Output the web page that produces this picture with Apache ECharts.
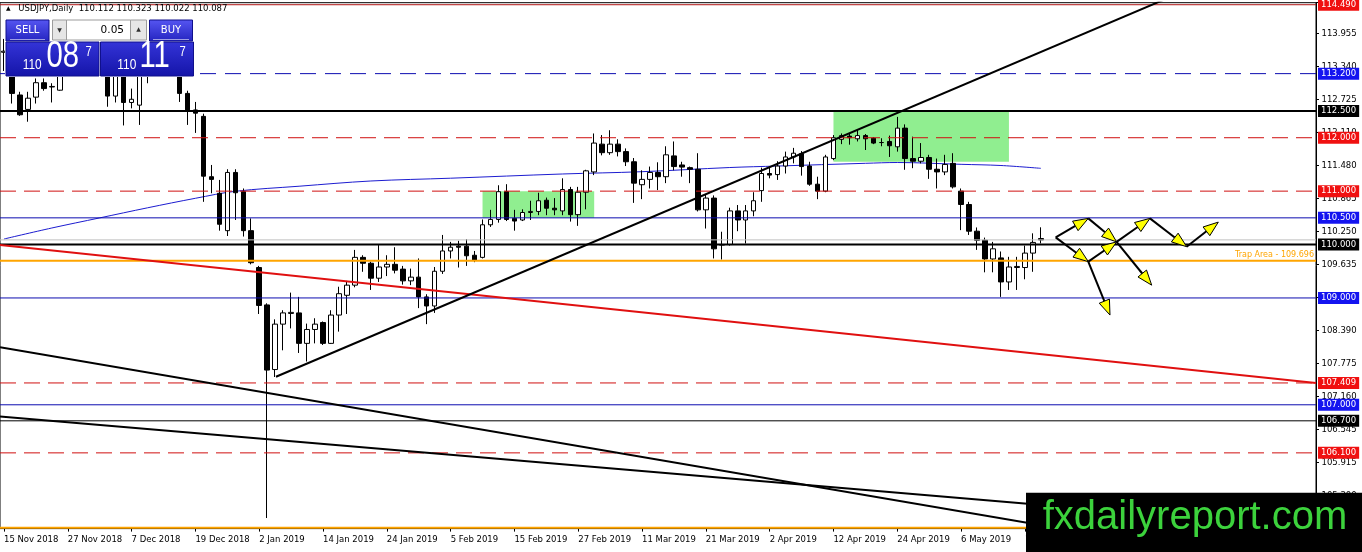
<!DOCTYPE html>
<html><head><meta charset="utf-8">
<script src="https://cdn.jsdelivr.net/npm/echarts@6/dist/echarts.min.js"></script>
<style>html,body{margin:0;padding:0;background:#fff}#c{width:1362px;height:552px}</style>
</head><body><div id="c"></div>
<script>
// ---------------- DATA ----------------
const dates = ['15 Nov 2018','16 Nov 2018','19 Nov 2018','20 Nov 2018','21 Nov 2018','22 Nov 2018','23 Nov 2018','26 Nov 2018','27 Nov 2018','28 Nov 2018',
'29 Nov 2018','30 Nov 2018','3 Dec 2018','4 Dec 2018','5 Dec 2018','6 Dec 2018','7 Dec 2018','10 Dec 2018','11 Dec 2018','12 Dec 2018',
'13 Dec 2018','14 Dec 2018','17 Dec 2018','18 Dec 2018','19 Dec 2018','20 Dec 2018','21 Dec 2018','24 Dec 2018','26 Dec 2018','27 Dec 2018',
'28 Dec 2018','31 Dec 2018','2 Jan 2019','3 Jan 2019','4 Jan 2019','7 Jan 2019','8 Jan 2019','9 Jan 2019','10 Jan 2019','11 Jan 2019',
'14 Jan 2019','15 Jan 2019','16 Jan 2019','17 Jan 2019','18 Jan 2019','21 Jan 2019','22 Jan 2019','23 Jan 2019','24 Jan 2019','25 Jan 2019',
'28 Jan 2019','29 Jan 2019','30 Jan 2019','31 Jan 2019','1 Feb 2019','4 Feb 2019','5 Feb 2019','6 Feb 2019','7 Feb 2019','8 Feb 2019',
'11 Feb 2019','12 Feb 2019','13 Feb 2019','14 Feb 2019','15 Feb 2019','18 Feb 2019','19 Feb 2019','20 Feb 2019','21 Feb 2019','22 Feb 2019',
'25 Feb 2019','26 Feb 2019','27 Feb 2019','28 Feb 2019','1 Mar 2019','4 Mar 2019','5 Mar 2019','6 Mar 2019','7 Mar 2019','8 Mar 2019',
'11 Mar 2019','12 Mar 2019','13 Mar 2019','14 Mar 2019','15 Mar 2019','18 Mar 2019','19 Mar 2019','20 Mar 2019','21 Mar 2019','22 Mar 2019',
'25 Mar 2019','26 Mar 2019','27 Mar 2019','28 Mar 2019','29 Mar 2019','1 Apr 2019','2 Apr 2019','3 Apr 2019','4 Apr 2019','5 Apr 2019',
'8 Apr 2019','9 Apr 2019','10 Apr 2019','11 Apr 2019','12 Apr 2019','15 Apr 2019','16 Apr 2019','17 Apr 2019','18 Apr 2019','19 Apr 2019',
'22 Apr 2019','23 Apr 2019','24 Apr 2019','25 Apr 2019','26 Apr 2019','29 Apr 2019','30 Apr 2019','1 May 2019','2 May 2019','3 May 2019',
'6 May 2019','7 May 2019','8 May 2019','9 May 2019','10 May 2019','13 May 2019','14 May 2019','15 May 2019','16 May 2019','17 May 2019',
'20 May 2019'];

const opens = [113.60,113.55,112.80,112.53,112.76,113.03,112.95,112.89,113.55,113.75,
113.45,113.50,113.60,113.65,112.78,113.20,112.66,112.61,113.30,113.35,
113.55,113.60,113.40,112.83,112.52,112.40,111.27,110.96,110.26,111.35,
110.99,110.26,109.57,108.87,107.66,108.51,108.71,108.72,108.15,108.41,
108.54,108.15,108.68,109.05,109.24,109.76,109.65,109.37,109.58,109.63,
109.54,109.32,109.39,109.02,108.85,109.50,109.88,109.97,109.97,109.80,
109.76,110.37,110.47,110.99,110.49,110.46,110.60,110.62,110.83,110.68,
110.63,111.03,110.56,110.98,111.36,111.88,111.72,111.88,111.74,111.55,
111.12,111.22,111.35,111.27,111.66,111.49,111.44,111.41,110.65,110.87,
109.99,110.00,110.63,110.46,110.63,111.01,111.33,111.31,111.47,111.64,
111.70,111.47,111.13,111.00,111.61,111.97,112.03,111.98,112.04,111.99,
111.91,111.93,111.83,112.18,111.61,111.56,111.63,111.41,111.36,111.52,
111.00,110.75,110.25,110.08,109.73,109.75,109.30,109.57,109.57,109.84,
110.112];
const highs = [113.85,113.70,112.86,112.86,113.11,113.11,113.02,113.70,113.85,114.02,
113.60,113.80,113.85,113.80,113.30,113.30,112.92,113.35,113.55,113.75,
113.70,113.70,113.45,112.88,112.67,112.45,111.49,111.21,111.41,111.41,
111.05,110.49,109.60,108.90,108.60,108.77,109.10,109.02,108.52,108.62,
108.56,108.77,109.21,109.32,109.90,109.80,109.68,109.99,109.80,109.95,
109.60,109.55,109.74,109.07,109.58,110.18,110.05,110.07,110.10,109.88,
110.47,110.65,111.11,111.13,110.65,110.66,110.82,110.97,110.88,110.87,
111.24,111.08,111.08,111.40,112.08,112.05,112.14,111.97,111.80,111.62,
111.39,111.46,111.54,111.84,111.93,111.55,111.46,111.71,110.94,110.92,
110.24,110.69,110.74,110.74,110.98,111.44,111.46,111.56,111.74,111.81,
111.75,111.55,111.27,111.68,112.05,112.08,112.07,112.16,112.07,112.01,
111.99,112.04,112.39,112.25,112.02,111.90,111.68,111.61,111.68,111.71,
111.05,110.80,110.32,110.13,110.05,109.87,109.77,109.77,109.98,110.21,
110.323];
const lows = [113.25,112.64,112.41,112.30,112.64,112.88,112.66,112.88,113.40,113.30,
113.25,113.30,113.40,112.58,112.66,112.23,112.55,112.24,113.02,113.25,
113.35,113.30,112.67,112.24,112.09,110.80,110.96,110.26,110.16,110.46,
110.15,109.63,108.70,104.88,107.52,108.02,108.43,107.97,107.81,108.15,
108.12,108.14,108.37,108.70,109.20,109.49,109.15,109.30,109.41,109.46,
109.25,109.24,108.81,108.51,108.72,109.45,109.74,109.57,109.60,109.67,
109.74,110.33,110.41,110.44,110.26,110.44,110.46,110.55,110.55,110.55,
110.55,110.43,110.35,110.66,111.30,111.67,111.68,111.65,111.47,110.78,
110.85,111.05,111.02,111.15,111.39,111.27,111.15,110.62,110.30,109.74,
109.72,109.98,110.25,110.02,110.53,110.80,111.24,111.21,111.33,111.52,
111.29,111.10,110.85,110.98,111.58,111.88,111.87,111.93,111.77,111.88,
111.84,111.64,111.74,111.40,111.43,111.52,111.23,111.05,111.30,111.05,
110.27,110.18,109.90,109.48,109.48,109.02,109.15,109.15,109.35,109.49,
110.022];
const closes = [113.62,112.83,112.43,112.74,113.03,112.92,112.96,113.55,113.75,113.45,
113.50,113.55,113.65,112.78,113.20,112.66,112.72,113.25,113.35,113.55,
113.60,113.40,112.83,112.52,112.46,111.28,111.22,110.38,111.35,110.97,
110.26,109.66,108.86,107.65,108.51,108.72,108.73,108.15,108.41,108.51,
108.15,108.68,109.08,109.24,109.76,109.65,109.37,109.58,109.63,109.52,
109.32,109.39,109.02,108.85,109.50,109.88,109.95,109.95,109.79,109.71,
110.37,110.47,110.99,110.47,110.44,110.60,110.62,110.82,110.68,110.65,
111.03,110.56,110.98,111.38,111.90,111.72,111.88,111.74,111.55,111.15,
111.22,111.35,111.27,111.68,111.46,111.45,111.41,110.65,110.87,109.92,
110.00,110.63,110.46,110.63,110.82,111.33,111.30,111.47,111.64,111.71,
111.46,111.13,111.00,111.64,112.00,112.04,112.00,112.04,111.98,111.90,
111.91,111.85,112.18,111.61,111.56,111.63,111.41,111.36,111.50,111.08,
110.75,110.25,110.08,109.73,109.92,109.30,109.58,109.59,109.84,110.04,
110.087];

// moving average (read at selected bars): bar index, value
const maBars   = [0, 6, 12, 18, 24, 29, 37, 46, 56, 70, 80, 91, 97, 108, 112, 120, 125, 130];
const maValues = [110.104,110.310,110.499,110.688,110.866,110.997,111.092,111.19,111.242,111.321,111.364,111.442,111.47,111.521,111.536,111.502,111.48,111.427];

// y-axis tick labels (as printed by the platform)
const yTickLabels = ['105.300','105.915','106.545','107.160','107.775','108.390','109.020','109.635','110.250','110.865','111.480','112.110','112.725','113.340','113.955'];

// horizontal price levels
const levelPrices = [114.49, 113.2, 112.5, 112.0, 111.0, 110.5, 110.0, 109.0, 107.409, 107.0, 106.7, 106.1];
const trapLevel = 109.696;
const bottomLevel = 104.70;

// trend lines: [barIndex, price] endpoints
const redTrend   = [[-0.5, 109.99], [164.5, 107.409]];
const riseTrend  = [[34.1, 107.525], [146, 114.62]];
const fallTrendA = [[-0.5, 108.078], [164.5, 103.867]];
const fallTrendB = [[-0.5, 106.780], [164.5, 104.689]];

// green zones: [fromBar, topPrice, toBar, bottomPrice]
const zones = [[60, 111.0, 74, 110.5], [104, 112.5, 126, 111.55]];

// projected path arrows: [fromBar, fromPrice, toBar, toPrice]
const arrowSegments = [
  [131.86,110.135,135.95,110.49],
  [135.95,110.49,139.5,110.05],
  [131.86,110.135,135.95,109.68],
  [135.95,109.68,139.5,110.05],
  [135.95,109.68,138.67,108.68],
  [139.5,110.05,143.68,110.49],
  [139.5,110.05,143.9,109.24],
  [143.68,110.49,148.28,109.96],
  [148.28,109.96,152.25,110.42]
];

// ---------------- BUILD ----------------
const SLOTS = 165;
const X0 = -0.5, X1 = 164.5;
const categories = dates.slice();
while (categories.length < SLOTS) categories.push('');
const candleData = dates.map((d, i) => [opens[i], closes[i], lows[i], highs[i]]);
const maData = maBars.map((b, i) => [b, maValues[i]]);
const last = dates.length - 1;
const bid = closes[last];

const FONT = 'DejaVu Sans';
const showIdx = (i) => i % 8 === 0 && i < dates.length;

const RED = '#d01010', BLUE = '#0c0cb0';
const styleFor = {
  top:        {color:'#b01414', width:1, type:'solid',  bg:'#f01010'},
  redDash:    {color:RED,       width:1, type:[16,8],   bg:'#f01010'},
  blueDash:   {color:BLUE,      width:1, type:[16,9],   bg:'#1414f0'},
  blue:       {color:BLUE,      width:1, type:'solid',  bg:'#1414f0'},
  blackThick: {color:'#000',    width:2, type:'solid',  bg:'#000'},
  black:      {color:'#000',    width:1, type:'solid',  bg:'#000'}
};
const levelKinds = ['top','blueDash','blackThick','redDash','redDash','blue','blackThick','blue','redDash','blue','black','redDash'];

function hLine(price, color, width, type, z) {
  return {type:'line', xAxisIndex:1, yAxisIndex:0, data:[[X0, price],[X1, price]], showSymbol:false, symbol:'none',
    lineStyle:{color, width, type, opacity:1}, silent:true, z: z || 4, animation:false};
}
function trendSeries(data, color, width) {
  return {type:'line', xAxisIndex:1, yAxisIndex:0, data, showSymbol:false, symbol:'none',
    lineStyle:{color, width}, silent:true, z:4, clip:true, animation:false};
}

const levelSeries = levelPrices.map((p, i) => {
  const s = styleFor[levelKinds[i]];
  return hLine(p, s.color, s.width, s.type);
});
levelSeries.push(hLine(bid, '#c0c0c0', 1, 'solid', 3.5));
levelSeries.push(hLine(trapLevel, '#ffa500', 2, 'solid'));
levelSeries.push(hLine(bottomLevel, '#ffa500', 2, 'solid'));

// price tag labels on the axis (line transparent, label only)
const CLEAR = 'rgba(0,0,0,0)';
const tagLines = levelPrices.map((p, i) => {
  const s = styleFor[levelKinds[i]];
  return {yAxis: p, lineStyle:{color:CLEAR, width:1, type:'solid'},
    label:{show:true, position:'end', distance:2, formatter:p.toFixed(3),
      backgroundColor:s.bg, color:'#fff', padding:[2,3,1,3], fontSize:8.5, lineHeight:9, fontFamily:FONT}};
});
tagLines.push({yAxis: trapLevel, lineStyle:{color:CLEAR, width:1, type:'solid'},
  label:{show:true, position:'insideEndTop', distance:2, formatter:'Trap Area - ' + trapLevel.toFixed(3),
    color:'#ffa500', fontSize:8, fontFamily:FONT}});

const yMin = 104.682, yInterval = 0.61821, yMax = 114.528;

const grad = (a, b) => new echarts.graphic.LinearGradient(0,0,0,1,[{offset:0,color:a},{offset:1,color:b}]);

const chart = echarts.init(document.getElementById('c'), null, {renderer:'canvas', width:1362, height:552});
chart.setOption({
  animation:false,
  backgroundColor:'#fff',
  grid:{left:0, top:2.7, width:1316, height:525.9, show:true, borderColor:'#000', borderWidth:1,
    backgroundColor:'#fff', containLabel:false, outerBoundsMode:'none'},
  xAxis:[
    {type:'category', data:categories, boundaryGap:true,
     axisLine:{show:true, onZero:false, lineStyle:{color:'#000', width:1}},
     axisTick:{show:true, alignWithLabel:true, length:3, interval:(i)=>showIdx(i), lineStyle:{color:'#000'}},
     axisLabel:{interval:(i)=>showIdx(i), align:'left', margin:7, fontSize:8.5, fontFamily:FONT, color:'#000'},
     splitLine:{show:false}},
    {type:'value', min:X0, max:X1, show:false, axisLine:{show:false, onZero:false}, axisTick:{show:false}, axisLabel:{show:false}, splitLine:{show:false}}
  ],
  yAxis:[{type:'value', position:'right', min:yMin, max:yMax, interval:yInterval,
    axisLine:{show:true, onZero:false, lineStyle:{color:'#000'}},
    axisTick:{show:true, length:3, lineStyle:{color:'#000'}},
    axisLabel:{margin:5.5, fontSize:8.5, fontFamily:FONT, color:'#000',
      formatter:(v)=>{ for (const t of yTickLabels) { if (Math.abs(parseFloat(t)-v) < 0.02) return t; } return ''; }},
    splitLine:{show:false}}],
  series:[
    {type:'line', xAxisIndex:1, yAxisIndex:0, data:maData, smooth:0.35, showSymbol:false, symbol:'none',
     lineStyle:{color:'#1c1cd0', width:1}, z:2, silent:true,
     markArea:{silent:true, itemStyle:{color:'#90ee90', opacity:1},
       data: zones.map(z => [{xAxis:z[0], yAxis:z[1]}, {xAxis:z[2], yAxis:z[3]}])}},
    {type:'candlestick', xAxisIndex:0, yAxisIndex:0, data:candleData, barWidth:5, z:3, silent:true,
     itemStyle:{color:'#ffffff', color0:'#000000', borderColor:'#000', borderColor0:'#000', borderColorDoji:'#000', borderWidth:1}},
    ...levelSeries,
    {type:'line', xAxisIndex:1, yAxisIndex:0, data:[], silent:true, z:5,
     markLine:{symbol:['none','none'], silent:true, animation:false, data:tagLines}},
    trendSeries(redTrend, '#e01010', 2),
    trendSeries(riseTrend, '#000', 2),
    trendSeries(fallTrendA, '#000', 2),
    trendSeries(fallTrendB, '#000', 2),
    {type:'custom', xAxisIndex:1, yAxisIndex:0, data:arrowSegments, z:6, silent:true, clip:false,
     encode:{x:[0,2], y:[1,3]},
     renderItem:(params, api) => {
       const p1 = api.coord([api.value(0), api.value(1)]);
       const p2 = api.coord([api.value(2), api.value(3)]);
       const dx = p2[0]-p1[0], dy = p2[1]-p1[1];
       const len = Math.hypot(dx, dy), ux = dx/len, uy = dy/len;
       const L = 15, W = 5.5;
       const bx = p2[0]-ux*L, by = p2[1]-uy*L;
       return {type:'group', children:[
         {type:'line', shape:{x1:p1[0], y1:p1[1], x2:bx, y2:by}, style:{stroke:'#000', lineWidth:2}},
         {type:'polygon', shape:{points:[[p2[0],p2[1]],[bx-uy*W, by+ux*W],[bx+uy*W, by-ux*W]]},
          style:{fill:'#ffff00', stroke:'#000', lineWidth:1}}
       ]};
     }}
  ],
  graphic:[
    // title
    {type:'text', z:100, x:6, y:8.5, style:{text:'▲', fill:'#000', fontSize:6, fontFamily:FONT, verticalAlign:'middle'}},
    {type:'text', z:100, x:18.3, y:8.5, style:{text:'USDJPY,Daily  ' + [opens[last],highs[last],lows[last],closes[last]].map(v=>v.toFixed(3)).join(' '),
      fill:'#000', fontSize:8.5, fontFamily:FONT, verticalAlign:'middle'}},
    // trade panel
    {type:'rect', z:100, shape:{x:5, y:18.5, width:190, height:58.5}, style:{fill:'#fff'}},
    {type:'rect', z:101, shape:{x:6, y:20, width:43, height:21}, style:{fill:grad('#5656f2','#2424c0'), stroke:'#10108c', lineWidth:1}},
    {type:'text', z:102, x:27.5, y:30, style:{text:'SELL', fill:'#fff', fontSize:10, fontFamily:FONT, align:'center', verticalAlign:'middle'}},
    {type:'line', z:102, shape:{x1:10, y1:39.5, x2:45, y2:39.5}, style:{stroke:'rgba(255,255,255,0.55)', lineWidth:1}},
    {type:'rect', z:101, shape:{x:52.5, y:20, width:14, height:20}, style:{fill:'#e6e6e6', stroke:'#9c9c9c', lineWidth:1}},
    {type:'text', z:102, x:59.5, y:30.5, style:{text:'▼', fill:'#303030', fontSize:6, fontFamily:FONT, align:'center', verticalAlign:'middle'}},
    {type:'rect', z:101, shape:{x:66.5, y:20, width:64, height:20}, style:{fill:'#fff', stroke:'#9c9c9c', lineWidth:1}},
    {type:'text', z:102, x:124, y:30, style:{text:'0.05', fill:'#000', fontSize:10.5, fontFamily:FONT, align:'right', verticalAlign:'middle'}},
    {type:'rect', z:101, shape:{x:130.5, y:20, width:16, height:20}, style:{fill:'#e6e6e6', stroke:'#9c9c9c', lineWidth:1}},
    {type:'text', z:102, x:138.5, y:29.5, style:{text:'▲', fill:'#303030', fontSize:6, fontFamily:FONT, align:'center', verticalAlign:'middle'}},
    {type:'rect', z:101, shape:{x:149.5, y:20, width:43, height:21}, style:{fill:grad('#5656f2','#2424c0'), stroke:'#10108c', lineWidth:1}},
    {type:'text', z:102, x:171, y:30, style:{text:'BUY', fill:'#fff', fontSize:10, fontFamily:FONT, align:'center', verticalAlign:'middle'}},
    {type:'line', z:102, shape:{x1:153, y1:39.5, x2:189, y2:39.5}, style:{stroke:'rgba(255,255,255,0.55)', lineWidth:1}},
    {type:'rect', z:101, shape:{x:6, y:42, width:93, height:34}, style:{fill:grad('#3434d8','#1414a8'), stroke:'#10108c', lineWidth:1}},
    {type:'rect', z:101, shape:{x:100.5, y:42, width:93, height:34}, style:{fill:grad('#3434d8','#1414a8'), stroke:'#10108c', lineWidth:1}},
    {type:'text', z:102, x:22.7, y:65, scaleX:0.85, style:{text:'110', fill:'#fff', fontSize:14, fontFamily:'Liberation Sans', verticalAlign:'middle'}},
    {type:'text', z:102, x:46.5, y:56.5, scaleX:0.78, style:{text:'08', fill:'#fff', fontSize:37.5, fontFamily:'Liberation Sans', verticalAlign:'middle'}},
    {type:'text', z:102, x:85.5, y:51.7, scaleX:0.8, style:{text:'7', fill:'#fff', fontSize:14, fontFamily:'Liberation Sans', verticalAlign:'middle'}},
    {type:'text', z:102, x:117.3, y:65, scaleX:0.85, style:{text:'110', fill:'#fff', fontSize:14, fontFamily:'Liberation Sans', verticalAlign:'middle'}},
    {type:'text', z:102, x:139.5, y:56.5, scaleX:0.78, style:{text:'11', fill:'#fff', fontSize:37.5, fontFamily:'Liberation Sans', verticalAlign:'middle'}},
    {type:'text', z:102, x:179.5, y:51.7, scaleX:0.8, style:{text:'7', fill:'#fff', fontSize:14, fontFamily:'Liberation Sans', verticalAlign:'middle'}},
    // logo
    {type:'rect', z:110, shape:{x:1026, y:492.7, width:336, height:60}, style:{fill:'#000'}},
    {type:'text', z:111, x:1042.7, y:518, style:{text:'fxdailyreport.com', fill:'#3cd23c', fontSize:40, fontFamily:'Liberation Sans', verticalAlign:'middle'}}
  ]
});
</script>
</body></html>
